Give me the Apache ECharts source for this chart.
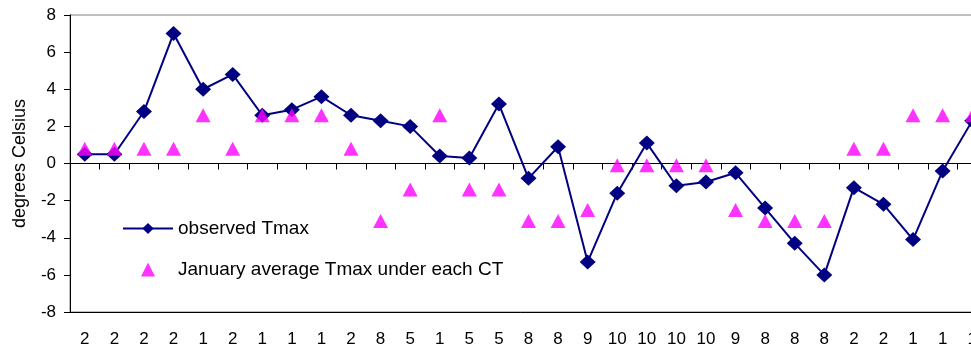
<!DOCTYPE html>
<html>
<head>
<meta charset="utf-8">
<script src="https://cdn.jsdelivr.net/npm/echarts@6/dist/echarts.min.js"></script>
<style>
html,body{margin:0;padding:0;background:#fff;}
#chart{width:971px;height:348px;}
</style>
</head>
<body>
<div id="chart"></div>
<script>
const categories = ['2','2','2','2','1','2','1','1','1','2','8','5','1','5','5','8','8','9','10','10','10','10','9','8','8','8','2','2','1','1','1'];
const observedTmax = [0.5,0.5,2.8,7.0,4.0,4.8,2.6,2.9,3.6,2.6,2.3,2.0,0.4,0.3,3.2,-0.8,0.9,-5.3,-1.6,1.1,-1.2,-1.0,-0.5,-2.4,-4.3,-6.0,-1.3,-2.2,-4.1,-0.4,2.3];
const ctAverageTmax = [0.8,0.8,0.8,0.8,2.6,0.8,2.6,2.6,2.6,0.8,-3.1,-1.4,2.6,-1.4,-1.4,-3.1,-3.1,-2.5,-0.1,-0.1,-0.1,-0.1,-2.5,-3.1,-3.1,-3.1,0.8,0.8,2.6,2.6,2.6];
const yTicks = {min:-8, max:8, interval:2};

const FONT = 'Liberation Sans, Arial, sans-serif';
const chart = echarts.init(document.getElementById('chart'), null, {renderer:'canvas'});
chart.setOption({
  animation: false,
  backgroundColor: '#ffffff',
  textStyle: {fontFamily: FONT, color: '#000'},
  grid: {left: 70, width: 917, top: 15, height: 297, containLabel: false, outerBoundsMode: 'none',
         show: true, borderColor: '#808080', borderWidth: 1, backgroundColor: 'transparent'},
  legend: {
    orient: 'vertical', left: 117, top: 214, padding: 5, itemWidth: 50, itemHeight: 14, itemGap: 22,
    textStyle: {fontFamily: FONT, fontSize: 19, color: '#000', lineHeight: 18},
    data: [
      {name: 'observed Tmax'},
      {name: 'January average Tmax under each CT', icon: 'path://M5,0L10,10L0,10Z'}
    ]
  },
  xAxis: [
    {
      type: 'category', data: categories, position: 'bottom', boundaryGap: true,
      axisLine: {show: true, onZero: false, lineStyle: {color: '#000', width: 1}},
      axisTick: {show: false},
      axisLabel: {interval: 0, margin: 19, fontSize: 17, color: '#000', fontFamily: FONT},
      splitLine: {show: false}
    },
    {
      type: 'category', data: categories, position: 'top', boundaryGap: true,
      axisLine: {show: true, onZero: true, lineStyle: {color: '#000', width: 1}},
      axisTick: {show: true, inside: true, interval: 0, length: 6, lineStyle: {color: '#000'}},
      axisLabel: {show: false},
      splitLine: {show: false}
    }
  ],
  yAxis: {
    type: 'value', min: yTicks.min, max: yTicks.max, interval: yTicks.interval,
    name: 'degrees Celsius', nameLocation: 'middle', nameGap: 41,
    nameTextStyle: {fontSize: 18, color: '#000', fontFamily: FONT},
    axisLine: {show: true, lineStyle: {color: '#000', width: 1}},
    axisTick: {show: true, length: 6, lineStyle: {color: '#000'}},
    axisLabel: {margin: 14, fontSize: 17, color: '#000', fontFamily: FONT},
    splitLine: {show: false}
  },
  series: [
    {
      name: 'observed Tmax', type: 'line', data: observedTmax, xAxisIndex: 0,
      symbol: 'diamond', symbolSize: [16, 15], showAllSymbol: true,
      lineStyle: {color: '#000080', width: 2},
      itemStyle: {color: '#000080'},
      emphasis: {disabled: true}, z: 2
    },
    {
      name: 'January average Tmax under each CT', type: 'scatter', data: ctAverageTmax, xAxisIndex: 0,
      symbol: 'triangle', symbolSize: [15, 14],
      itemStyle: {color: '#FF00FF'},
      emphasis: {disabled: true}, z: 3
    }
  ]
});
</script>
</body>
</html>
